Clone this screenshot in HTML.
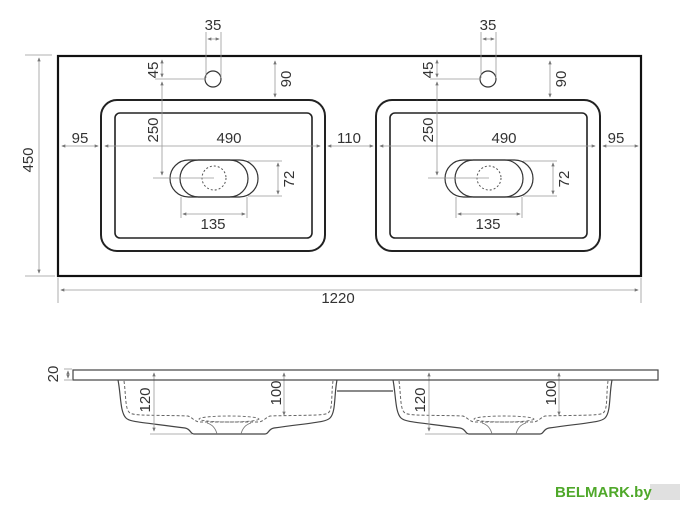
<!DOCTYPE html>
<html><head><meta charset="utf-8"><style>
html,body{margin:0;padding:0;background:#fff;}
svg{display:block;}
text{font-family:"Liberation Sans",sans-serif;fill:#333;font-size:15px;}
</style></head><body>
<svg width="700" height="516" viewBox="0 0 700 516" xmlns="http://www.w3.org/2000/svg">
<defs>
<marker id="a" viewBox="0 0 6 6" refX="5" refY="3" markerWidth="5" markerHeight="5" orient="auto-start-reverse"><path d="M0,0.5 L6,3 L0,5.5z" fill="#777"/></marker>
<g id="basin">
 <rect x="101" y="100" width="224" height="151" rx="16" fill="none" stroke="#222" stroke-width="2"/>
 <rect x="115" y="113" width="197" height="125" rx="5" fill="none" stroke="#222" stroke-width="1.6"/>
 <rect x="170" y="160" width="88" height="37" rx="18.5" fill="none" stroke="#333" stroke-width="1.2"/>
 <rect x="180" y="160" width="68" height="37" rx="18.5" fill="none" stroke="#333" stroke-width="1.2"/>
 <circle cx="214" cy="178" r="12" fill="none" stroke="#555" stroke-width="1" stroke-dasharray="2,2"/>
 <circle cx="213" cy="79" r="8" fill="none" stroke="#333" stroke-width="1.2"/>
 <g stroke="#999" stroke-width="0.8" fill="none">
  <line x1="206" y1="32" x2="206" y2="78"/><line x1="221" y1="32" x2="221" y2="78"/>
  <line x1="208" y1="39" x2="219" y2="39" marker-start="url(#a)" marker-end="url(#a)"/>
  <line x1="155" y1="79" x2="206" y2="79"/>
  <line x1="162" y1="60" x2="162" y2="77" marker-start="url(#a)" marker-end="url(#a)"/>
  <line x1="162" y1="82" x2="162" y2="175" marker-start="url(#a)" marker-end="url(#a)"/>
  <line x1="153" y1="178" x2="214" y2="178"/>
  <line x1="275" y1="61" x2="275" y2="97" marker-start="url(#a)" marker-end="url(#a)"/>
  <line x1="105" y1="146" x2="320" y2="146" marker-start="url(#a)" marker-end="url(#a)"/>
  <line x1="248" y1="161" x2="282" y2="161"/><line x1="248" y1="196" x2="282" y2="196"/>
  <line x1="278" y1="163" x2="278" y2="194" marker-start="url(#a)" marker-end="url(#a)"/>
  <line x1="181" y1="197" x2="181" y2="218"/><line x1="247" y1="197" x2="247" y2="218"/>
  <line x1="183" y1="214" x2="245" y2="214" marker-start="url(#a)" marker-end="url(#a)"/>
 </g>
 <text x="213" y="30" text-anchor="middle">35</text>
 <text transform="translate(158,70) rotate(-90)" text-anchor="middle">45</text>
 <text transform="translate(158,130) rotate(-90)" text-anchor="middle">250</text>
 <text transform="translate(291,79) rotate(-90)" text-anchor="middle">90</text>
 <text x="229" y="143" text-anchor="middle">490</text>
 <text transform="translate(294,179) rotate(-90)" text-anchor="middle">72</text>
 <text x="213" y="229" text-anchor="middle">135</text>
 <path d="M118,380 C121,395 120,412 126,418 C130,422 140,422 185,428 C191,429 190,434 194,434 L265,434 C269,434 268,429 274,428 C318,422 326,422 330,418 C336,412 334,395 337,380" fill="none" stroke="#444" stroke-width="1.2"/>
 <path d="M124,381 C126,395 125,410 130,413 C134,416 160,415 188,416 C193,418 195,422 200,422 L258,422 C263,422 265,418 270,416 C300,415 324,416 328,413 C333,410 331,395 333,381" fill="none" stroke="#666" stroke-width="1" stroke-dasharray="3,2"/>
 <ellipse cx="229" cy="419" rx="30" ry="3" fill="none" stroke="#666" stroke-width="0.9" stroke-dasharray="3,2"/>
 <path d="M207,423 C214,425 216,430 217,434 M251,423 C244,425 242,430 241,434" fill="none" stroke="#777" stroke-width="0.9"/>
 <g stroke="#999" stroke-width="0.8" fill="none">
  <line x1="154" y1="373" x2="154" y2="431" marker-start="url(#a)" marker-end="url(#a)"/>
  <line x1="150" y1="434" x2="192" y2="434"/>
  <line x1="284" y1="373" x2="284" y2="415" marker-start="url(#a)" marker-end="url(#a)"/>
 </g>
 <text transform="translate(150,400) rotate(-90)" text-anchor="middle">120</text>
 <text transform="translate(281,393) rotate(-90)" text-anchor="middle">100</text>
</g>
</defs>
<rect x="58" y="56" width="583" height="220" fill="none" stroke="#111" stroke-width="2.2"/>
<use href="#basin"/>
<use href="#basin" transform="translate(275,0)"/>
<g stroke="#999" stroke-width="0.8" fill="none">
 <line x1="62" y1="146" x2="98" y2="146" marker-start="url(#a)" marker-end="url(#a)"/>
 <line x1="328" y1="146" x2="373" y2="146" marker-start="url(#a)" marker-end="url(#a)"/>
 <line x1="603" y1="146" x2="638" y2="146" marker-start="url(#a)" marker-end="url(#a)"/>
 <line x1="25" y1="55" x2="52" y2="55"/><line x1="25" y1="276" x2="55" y2="276"/>
 <line x1="39" y1="58" x2="39" y2="273" marker-start="url(#a)" marker-end="url(#a)"/>
 <line x1="58" y1="278" x2="58" y2="303"/><line x1="641" y1="278" x2="641" y2="303"/>
 <line x1="61" y1="290" x2="638" y2="290" marker-start="url(#a)" marker-end="url(#a)"/>
 <line x1="64" y1="369" x2="72" y2="369"/><line x1="64" y1="380" x2="72" y2="380"/>
 <line x1="68" y1="371" x2="68" y2="378" marker-start="url(#a)" marker-end="url(#a)"/>
</g>
<text x="80" y="143" text-anchor="middle">95</text>
<text x="349" y="143" text-anchor="middle">110</text>
<text x="616" y="143" text-anchor="middle">95</text>
<text transform="translate(33,160) rotate(-90)" text-anchor="middle">450</text>
<text x="338" y="303" text-anchor="middle">1220</text>
<rect x="73" y="370" width="585" height="10" fill="none" stroke="#444" stroke-width="1.2"/>
<line x1="337" y1="391" x2="393" y2="391" stroke="#444" stroke-width="1.2"/>
<text transform="translate(58,374) rotate(-90)" text-anchor="middle">20</text>
<rect x="650" y="484" width="30" height="16" fill="#ccc" opacity="0.6"/>
<text x="555" y="497" style="font-size:15px;font-weight:bold;fill:#4fa82a">BELMARK.by</text>
</svg>
</body></html>
